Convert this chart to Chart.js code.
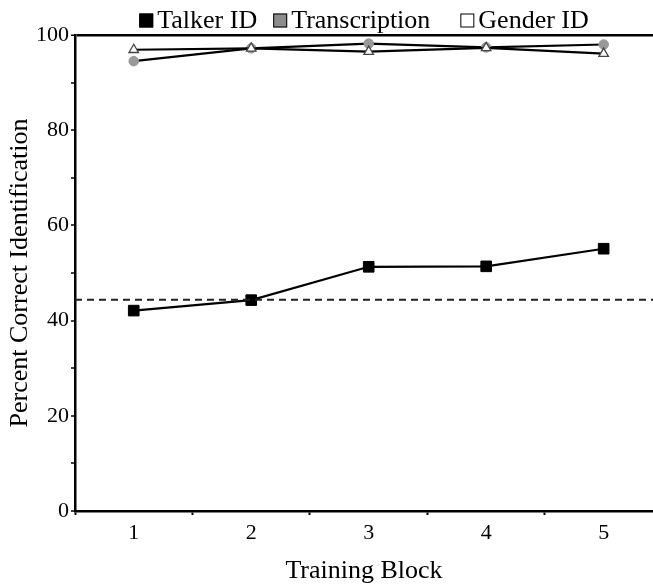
<!DOCTYPE html>
<html>
<head>
<meta charset="utf-8">
<script src="https://cdn.jsdelivr.net/npm/chart.js@4.4.0/dist/chart.umd.min.js"></script>
<style>
  html, body { margin: 0; padding: 0; background: #fff; }
  #wrap { width: 653px; height: 588px; }
</style>
</head>
<body>
<div id="wrap"><canvas id="myChart" width="653" height="588"></canvas></div>
<script>
// data
const blocks = [1, 2, 3, 4, 5];
const talkerID = [42.1, 44.3, 51.3, 51.4, 55.1];
const transcription = [94.5, 97.2, 98.2, 97.4, 98.0];
const genderID = [96.9, 97.2, 96.5, 97.3, 96.1];
const chanceLevel = 44.4;
const yTicks = [0, 20, 40, 60, 80, 100];

const serif = '"Liberation Serif", "Times New Roman", serif';

function points(values) {
    return blocks.map((b, i) => ({ x: b, y: values[i] }));
}

// dashed chance line across the plot
const chanceLine = {
    id: 'chanceLine',
    afterDatasetsDraw(chart) {
        const ctx = chart.ctx;
        const area = chart.chartArea;
        const y = chart.scales.y.getPixelForValue(chanceLevel);
        ctx.save();
        ctx.strokeStyle = '#222';
        ctx.lineWidth = 2;
        ctx.setLineDash([7, 5]);
        ctx.beginPath();
        ctx.moveTo(area.left, y);
        ctx.lineTo(area.right, y);
        ctx.stroke();
        ctx.restore();
    }
};

// legend drawn above the plot, centred on the plot area
const topLegend = {
    id: 'topLegend',
    afterDraw(chart) {
        const ctx = chart.ctx;
        const sets = chart.data.datasets;
        const box = 14, boxGap = 4, gaps = [16, 30];
        const baseline = 27.5;
        ctx.save();
        ctx.font = '26px ' + serif;
        const widths = sets.map(d => ctx.measureText(d.label).width);
        let total = 0;
        widths.forEach((w, i) => { total += box + boxGap + w + (i < gaps.length ? gaps[i] : 0); });
        const area = chart.chartArea;
        let x = (area.left + area.right) / 2 - total / 2;
        ctx.textBaseline = 'alphabetic';
        sets.forEach((d, i) => {
            ctx.fillStyle = d.backgroundColor;
            ctx.fillRect(x, baseline - box, box, box);
            ctx.strokeStyle = '#000';
            ctx.lineWidth = 1;
            ctx.strokeRect(x + 0.5, baseline - box + 0.5, box - 1, box - 1);
            x += box + boxGap;
            ctx.fillStyle = '#000';
            ctx.fillText(d.label, x, baseline);
            x += widths[i] + (i < gaps.length ? gaps[i] : 0);
        });
        ctx.restore();
    }
};

const ctx = document.getElementById('myChart').getContext('2d');
new Chart(ctx, {
    type: 'line',
    data: {
        datasets: [
            {
                label: 'Talker ID',
                data: points(talkerID),
                borderColor: '#000',
                backgroundColor: '#000',
                borderWidth: 2.2,
                pointStyle: 'rect',
                pointRadius: 7.5,
                pointBackgroundColor: '#000',
                pointBorderColor: '#000',
                pointBorderWidth: 1
            },
            {
                label: 'Transcription',
                data: points(transcription),
                borderColor: '#000',
                backgroundColor: '#8c8c8c',
                borderWidth: 2.2,
                pointStyle: 'circle',
                pointRadius: 4.8,
                pointBackgroundColor: '#999',
                pointBorderColor: '#999',
                pointBorderWidth: 1,
                order: 2
            },
            {
                label: 'Gender ID',
                data: points(genderID),
                borderColor: '#000',
                backgroundColor: '#fff',
                borderWidth: 2.2,
                pointStyle: 'triangle',
                pointRadius: 5.5,
                pointBackgroundColor: '#fff',
                pointBorderColor: '#444',
                pointBorderWidth: 1.3,
                order: 1
            }
        ]
    },
    options: {
        responsive: false,
        animation: false,
        layout: { autoPadding: false, padding: { top: 35, right: 0, left: 0, bottom: 0 } },
        plugins: {
            tooltip: { enabled: false },
            legend: { display: false }
        },
        scales: {
            x: {
                type: 'linear',
                min: 0.5,
                max: 5.42,
                afterBuildTicks(scale) {
                    const t = [];
                    blocks.forEach(b => { t.push({ value: b - 0.5 }); t.push({ value: b }); });
                    scale.ticks = t;
                },
                afterFit(scale) {
                    scale.height = 77;
                    scale.paddingLeft = 0;
                    scale.paddingRight = 0;
                },
                border: { display: true, color: '#000', width: 2.5 },
                grid: {
                    drawOnChartArea: false,
                    drawTicks: true,
                    tickLength: 4,
                    tickWidth: 2,
                    tickColor: c => (Number.isInteger(c.tick.value) ? 'rgba(0,0,0,0)' : '#000')
                },
                ticks: {
                    color: '#000',
                    font: { family: serif, size: 22 },
                    padding: 5,
                    autoSkip: false,
                    maxRotation: 0,
                    callback: v => (Number.isInteger(v) ? String(v) : '')
                },
                title: {
                    display: true,
                    text: 'Training Block',
                    color: '#000',
                    font: { family: serif, size: 26 },
                    padding: { top: 0, bottom: 1 }
                }
            },
            y: {
                min: 0,
                max: 100,
                afterFit(scale) {
                    scale.width = 75;
                    scale.paddingTop = 0;
                    scale.paddingBottom = 0;
                },
                border: { display: true, color: '#000', width: 2.5 },
                grid: {
                    drawOnChartArea: true,
                    drawTicks: true,
                    tickLength: 4,
                    tickWidth: 1.5,
                    color: c => (c.tick.value === 100 ? '#000' : 'rgba(0,0,0,0)'),
                    lineWidth: c => (c.tick.value === 100 ? 2.5 : 0),
                    tickColor: '#000'
                },
                ticks: {
                    stepSize: 10,
                    color: '#000',
                    font: { family: serif, size: 22 },
                    padding: 2,
                    callback: v => (yTicks.includes(v) ? String(v) : '')
                },
                title: {
                    display: true,
                    text: 'Percent Correct Identification',
                    color: '#000',
                    font: { family: serif, size: 26 },
                    padding: { top: 5, bottom: 0 }
                }
            }
        }
    },
    plugins: [chanceLine, topLegend]
});
</script>
</body>
</html>
